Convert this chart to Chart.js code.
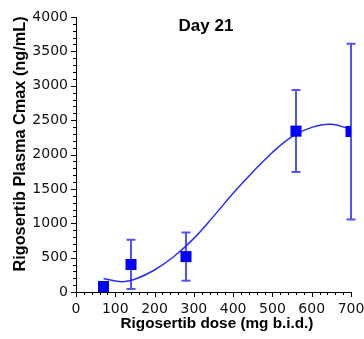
<!DOCTYPE html>
<html>
<head>
<meta charset="utf-8">
<script src="https://cdn.jsdelivr.net/npm/chart.js@4/dist/chart.umd.min.js"></script>
<style>
  html, body { margin: 0; padding: 0; background: #fff; }
  #wrap { width: 364px; height: 339px; }
</style>
</head>
<body>
<div id="wrap"><canvas id="grafica" width="364" height="339"></canvas></div>
<script>
// ==============================
// Datos
// ==============================
const dosis = [70, 140, 280, 560, 700];
const cmax = [80, 400, 515, 2340, 2335];
const errBajo = [null, 45, 165, 1745, 1055];
const errAlto = [null, 760, 865, 2940, 3610];

// curva ajustada
const ajusteX = [70, 100, 120, 150, 200, 250, 300, 350, 400, 450, 500, 550, 600, 650, 700];
const ajusteY = [195, 160, 150, 185, 320, 520, 780, 1100, 1435, 1745, 2030, 2260, 2395, 2440, 2365];

const xTicks = [0, 100, 200, 300, 400, 500, 600, 700];
const yTicks = [0, 500, 1000, 1500, 2000, 2500, 3000, 3500, 4000];

const titulo = "Day 21";
const tituloX = "Rigosertib dose (mg b.i.d.)";
const tituloY = "Rigosertib Plasma Cmax (ng/mL)";

const fuenteTicks = "'DejaVu Sans', Verdana, sans-serif";
const fuenteTitulos = "'Liberation Sans', Arial, sans-serif";

// ==============================
// Plugins
// ==============================
const barrasError = {
  id: "barrasError",
  beforeDatasetsDraw(chart) {
    const { ctx, scales: { x, y } } = chart;
    ctx.save();
    ctx.strokeStyle = "#5252ff";
    ctx.lineWidth = 2;
    dosis.forEach((d, i) => {
      if (errBajo[i] == null) return;
      const px = x.getPixelForValue(d);
      const y1 = y.getPixelForValue(errBajo[i]);
      const y2 = y.getPixelForValue(errAlto[i]);
      ctx.beginPath();
      ctx.moveTo(px, y1); ctx.lineTo(px, y2);
      ctx.moveTo(px - 4.5, y1); ctx.lineTo(px + 4.5, y1);
      ctx.moveTo(px - 4.5, y2); ctx.lineTo(px + 4.5, y2);
      ctx.stroke();
    });
    ctx.restore();
  }
};

const ejes = {
  id: "ejes",
  afterDraw(chart) {
    const { ctx, chartArea: a, scales: { x, y } } = chart;
    ctx.save();
    ctx.strokeStyle = "#000";
    ctx.lineWidth = 1;
    ctx.beginPath();
    ctx.moveTo(a.left + 0.5, a.top);
    ctx.lineTo(a.left + 0.5, a.bottom + 0.5);
    ctx.lineTo(a.right, a.bottom + 0.5);
    // marcas en x cada 20
    for (let v = 0; v <= 700; v += 20) {
      const px = Math.round(x.getPixelForValue(v)) + 0.5;
      const len = v % 100 === 0 ? 5 : 3;
      ctx.moveTo(px, a.bottom); ctx.lineTo(px, a.bottom + len);
    }
    // marcas en y cada 100
    for (let v = 0; v <= 4000; v += 100) {
      const py = Math.round(y.getPixelForValue(v)) + 0.5;
      const len = v % 500 === 0 ? 5 : 3;
      ctx.moveTo(a.left, py); ctx.lineTo(a.left - len, py);
    }
    ctx.stroke();

    ctx.fillStyle = "#000";
    ctx.font = "bold 17px " + fuenteTitulos;
    ctx.textAlign = "center";
    ctx.textBaseline = "alphabetic";
    ctx.fillText(titulo, 206, 31);

    ctx.font = "bold 15.3px " + fuenteTitulos;
    ctx.fillText(tituloX, 217, 328);

    ctx.translate(25, 144);
    ctx.rotate(-Math.PI / 2);
    ctx.font = "bold 16.3px " + fuenteTitulos;
    ctx.fillText(tituloY, 0, 0);
    ctx.restore();
  }
};

// ==============================
// Grafica
// ==============================
const ctx = document.getElementById("grafica").getContext("2d");
const grafica = new Chart(ctx, {
  type: "scatter",
  data: {
    datasets: [
      {
        label: "Cmax",
        data: dosis.map((d, i) => ({ x: d, y: cmax[i] })),
        pointStyle: "rect",
        pointRadius: 7.8,
        pointHoverRadius: 7.8,
        backgroundColor: "#0000ff",
        borderColor: "#0000ff",
        borderWidth: 0,
        order: 1
      },
      {
        label: "Ajuste",
        data: ajusteX.map((d, i) => ({ x: d, y: ajusteY[i] })),
        showLine: true,
        pointRadius: 0,
        borderColor: "#2a2aff",
        borderWidth: 1.5,
        tension: 0.4,
        order: 2
      }
    ]
  },
  options: {
    responsive: false,
    animation: false,
    events: [],
    layout: { padding: { top: 17, right: 13, left: 0, bottom: 0 } },
    plugins: { legend: { display: false }, tooltip: { enabled: false }, title: { display: false } },
    scales: {
      x: {
        type: "linear",
        min: 0,
        max: 700,
        afterBuildTicks: s => { s.ticks = xTicks.map(v => ({ value: v })); },
        afterFit: s => { s.height = 47; s.paddingLeft = 0; s.paddingRight = 0; },
        grid: { display: true, drawOnChartArea: false, drawTicks: false, color: "transparent" },
        border: { display: false },
        ticks: { color: "#111", padding: 9, maxRotation: 0, callback: v => String(v), font: { family: fuenteTicks, size: 14 } }
      },
      y: {
        type: "linear",
        min: 0,
        max: 4000,
        afterBuildTicks: s => { s.ticks = yTicks.map(v => ({ value: v })); },
        afterFit: s => { s.width = 76; s.paddingTop = 0; s.paddingBottom = 0; },
        grid: { display: true, drawOnChartArea: false, drawTicks: false, color: "transparent" },
        border: { display: false },
        ticks: { color: "#111", padding: 8, callback: v => String(v), font: { family: fuenteTicks, size: 14 } }
      }
    }
  },
  plugins: [barrasError, ejes]
});
</script>
</body>
</html>
